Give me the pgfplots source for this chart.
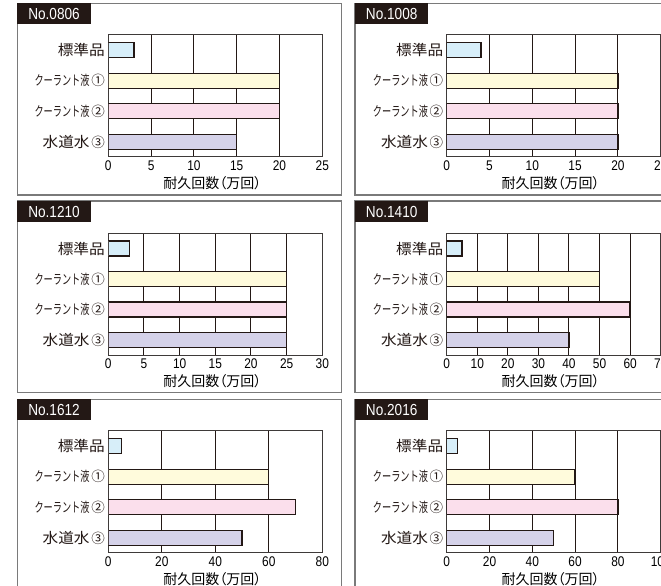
\documentclass[border=0pt]{standalone}
\usepackage{pgfplots}
\pgfplotsset{compat=1.18}
\usepackage{fontspec}
\setmainfont{Liberation Sans}[FakeStretch=0.85]
\newfontfamily\jp{Noto Sans CJK JP}[FakeStretch=1.08]
\newfontfamily\jpc{Noto Sans CJK JP}[FakeStretch=0.68]
\newfontfamily\jpx{Noto Sans CJK JP}
\newfontfamily\jpp{Noto Sans CJK JP}[RawFeature=+palt]
\definecolor{cA}{HTML}{D7EEF9}
\definecolor{cB}{HTML}{FFFBDC}
\definecolor{cC}{HTML}{FBDFEC}
\definecolor{cD}{HTML}{D5D2E9}
\definecolor{ink}{HTML}{231815}
\definecolor{framec}{HTML}{7A7A7A}
\definecolor{axc}{HTML}{3E3A39}
\newcommand\szL{\fontsize{14.5}{15}\selectfont}
\newcommand\szM{\fontsize{13.5}{14}\selectfont}
\pgfplotsset{
  panel/.style={
    xbar, bar shift=0pt, bar width=15pt,
    scale only axis, width=214pt, height=122pt,
    anchor=north west,
    xmin=0, y dir=reverse, ymin=-0.5, ymax=3.5,
    ytick={0,1,2,3},
    yticklabels={{\jp\szL 標準品},{\jpc\szM クーラント液}\,{\jpx\szM ①},{\jpc\szM クーラント液}\,{\jpx\szM ②},{\jp\szL 水道水}\,{\jpx\szM ③}},
    xmajorgrids, major grid style={line width=1pt, color=ink},
    major tick length=0pt,
    axis line style={line width=1pt, color=axc},
    xticklabel style={font=\fontsize{14}{14}\selectfont},
    yticklabel style={text=ink},
    /pgf/number format/assume math mode=true,
    xlabel={耐久回数（万回）},
    xlabel style={font=\jpp\fontsize{14}{14}\selectfont, at={(axis description cs:0.5,0)}, anchor=center, yshift=-26pt, xshift=-3pt},
  },
  barA/.style={fill=cA, draw=ink, line width=1.3pt},
  barB/.style={fill=cB, draw=ink, line width=1.3pt},
  barC/.style={fill=cC, draw=ink, line width=1.3pt},
  barD/.style={fill=cD, draw=ink, line width=1.3pt},
}
\newcommand\panelframe[5]{% x1 y1 x2 y2 title
  \draw[framec, line width=1.3pt] (#1,#2) rectangle (#3,#4);
  \fill[ink] (#1,{#4-21}) rectangle ({#1+73.4},#4);
  \node[text=white, font=\fontsize{16}{16}\selectfont] at ({#1+36.7},{#4-10.5}) {#5};
}
\begin{document}
\begin{tikzpicture}[x=1pt,y=1pt]
\useasboundingbox (0,0) rectangle (661,586);
\clip (0,0) rectangle (661,586);
\fill[white] (0,0) rectangle (661,586);
% frames
\panelframe{17.3}{391}{341.7}{582.7}{No.0806}
\panelframe{355}{391}{720}{582.7}{No.1008}
\panelframe{17.3}{193.3}{341.7}{385}{No.1210}
\panelframe{355}{193.3}{720}{385}{No.1410}
\panelframe{17.3}{-20}{341.7}{186.7}{No.1612}
\panelframe{355}{-20}{720}{186.7}{No.2016}
% No.0806
\begin{axis}[panel, at={(108.3pt,551pt)}, xmax=25, xtick={0,5,10,15,20,25}]
\addplot[barA] coordinates {(3,0)};
\addplot[barB] coordinates {(20,1)};
\addplot[barC] coordinates {(20,2)};
\addplot[barD] coordinates {(15,3)};
\end{axis}
% No.1008
\begin{axis}[panel, at={(446.7pt,551pt)}, xmax=25, xtick={0,5,10,15,20,25}]
\addplot[barA] coordinates {(4,0)};
\addplot[barB] coordinates {(20,1)};
\addplot[barC] coordinates {(20,2)};
\addplot[barD] coordinates {(20,3)};
\end{axis}
% No.1210
\begin{axis}[panel, at={(108.3pt,352.7pt)}, xmax=30, xtick={0,5,10,15,20,25,30}]
\addplot[barA] coordinates {(3,0)};
\addplot[barB] coordinates {(25,1)};
\addplot[barC] coordinates {(25,2)};
\addplot[barD] coordinates {(25,3)};
\end{axis}
% No.1410
\begin{axis}[panel, at={(446.7pt,352.7pt)}, xmax=70, xtick={0,10,20,30,40,50,60,70}]
\addplot[barA] coordinates {(5,0)};
\addplot[barB] coordinates {(50,1)};
\addplot[barC] coordinates {(60,2)};
\addplot[barD] coordinates {(40,3)};
\end{axis}
% No.1612
\begin{axis}[panel, at={(108.3pt,155pt)}, xmax=80, xtick={0,20,40,60,80}]
\addplot[barA] coordinates {(5,0)};
\addplot[barB] coordinates {(60,1)};
\addplot[barC] coordinates {(70,2)};
\addplot[barD] coordinates {(50,3)};
\end{axis}
% No.2016
\begin{axis}[panel, at={(446.7pt,155pt)}, xmax=100, xtick={0,20,40,60,80,100}]
\addplot[barA] coordinates {(5,0)};
\addplot[barB] coordinates {(60,1)};
\addplot[barC] coordinates {(80,2)};
\addplot[barD] coordinates {(50,3)};
\end{axis}
\end{tikzpicture}
\end{document}
